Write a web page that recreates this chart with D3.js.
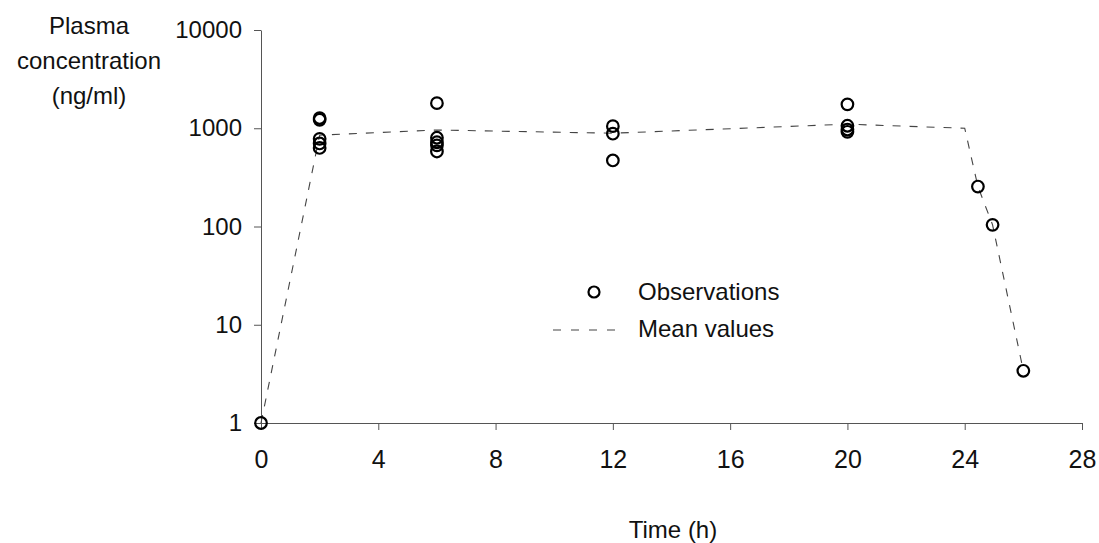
<!DOCTYPE html>
<html>
<head>
<meta charset="utf-8">
<script src="https://cdn.jsdelivr.net/npm/d3@7"></script>
<style>
  body { margin: 0; background: #fff; }
  text { font-family: "Liberation Sans", Arial, sans-serif; fill: #111; }
</style>
</head>
<body>
<div id="chart"></div>
<script>
// observations: [time (h), concentration (ng/ml)]
var observations = [
  [0, 1],
  [2, 1270], [2, 1220], [2, 780], [2, 700], [2, 630],
  [6, 1800], [6, 800], [6, 720], [6, 670], [6, 580],
  [12, 1050], [12, 880], [12, 470],
  [20, 1750], [20, 1060], [20, 970], [20, 920],
  [24.45, 255], [24.95, 104], [26, 3.4]
];

// mean values line
var meanValues = [
  [0, 1], [2, 850], [6, 960], [12, 890], [20, 1100], [24, 1000],
  [24.45, 255], [24.95, 104], [26, 3.4]
];

var xTicks = [0, 4, 8, 12, 16, 20, 24, 28];
var yTicks = [1, 10, 100, 1000, 10000];
var yLabel = ["Plasma", "concentration", "(ng/ml)"];

let width = 1099, height = 543;

let svg = d3.select('#chart')
    .append('svg')
    .attr('width', width)
    .attr('height', height);

let x = d3.scaleLinear()
    .domain([0, 28])
    .range([261, 1082]);

let y = d3.scaleLog()
    .domain([1, 10000])
    .range([423, 30]);

// x axis
let xAxis = d3.axisBottom(x)
    .tickValues(xTicks)
    .tickSize(7)
    .tickSizeOuter(0)
    .tickPadding(20);

let gx = svg.append('g')
    .attr('transform', 'translate(0,' + y(1) + ')')
    .call(xAxis);
gx.select('.domain').attr('stroke', '#555');
gx.selectAll('.tick line').attr('stroke', '#555');
gx.selectAll('.tick text')
    .style('font-size', '25px')
    .attr('fill', '#111');

// y axis
let yAxis = d3.axisLeft(y)
    .tickValues(yTicks)
    .tickFormat(d3.format('d'))
    .tickSize(7)
    .tickSizeOuter(0)
    .tickPadding(12);

let gy = svg.append('g')
    .attr('transform', 'translate(' + x(0) + ',0)')
    .call(yAxis);
gy.select('.domain').attr('stroke', '#555');
gy.selectAll('.tick line').attr('stroke', '#555');
gy.selectAll('.tick text')
    .style('font-size', '24px')
    .attr('fill', '#111');

// axis titles
svg.append('text')
    .attr('text-anchor', 'middle')
    .attr('x', 89)
    .selectAll('tspan')
    .data(yLabel)
    .enter().append('tspan')
        .attr('x', 89)
        .attr('y', function (d, i) { return 34 + i * 35; })
        .style('font-size', '24px')
        .text(function (d) { return d; });

svg.append('text')
    .attr('text-anchor', 'middle')
    .attr('x', 673)
    .attr('y', 538)
    .style('font-size', '24px')
    .text('Time (h)');

// mean line
let line = d3.line()
    .x(function (d) { return x(d[0]); })
    .y(function (d) { return y(d[1]); });

svg.append('path')
    .datum(meanValues)
    .attr('d', line)
    .attr('fill', 'none')
    .attr('stroke', '#444')
    .attr('stroke-width', 1.1)
    .attr('stroke-dasharray', '8,9');

// observation circles
svg.append('g').selectAll('circle')
    .data(observations)
    .enter().append('circle')
        .attr('cx', function (d) { return x(d[0]); })
        .attr('cy', function (d) { return y(d[1]); })
        .attr('r', 5.8)
        .attr('fill', 'none')
        .attr('stroke', '#000')
        .attr('stroke-width', 2.2);

// legend
let legend = svg.append('g');
legend.append('circle')
    .attr('cx', 594)
    .attr('cy', 292)
    .attr('r', 5.5)
    .attr('fill', 'none')
    .attr('stroke', '#000')
    .attr('stroke-width', 2.2);
legend.append('text')
    .attr('x', 638)
    .attr('y', 300)
    .style('font-size', '24px')
    .text('Observations');
legend.append('line')
    .attr('x1', 553).attr('x2', 624)
    .attr('y1', 330).attr('y2', 330)
    .attr('stroke', '#444')
    .attr('stroke-width', 1.1)
    .attr('stroke-dasharray', '8,10');
legend.append('text')
    .attr('x', 638)
    .attr('y', 337)
    .style('font-size', '24px')
    .text('Mean values');
</script>
</body>
</html>
